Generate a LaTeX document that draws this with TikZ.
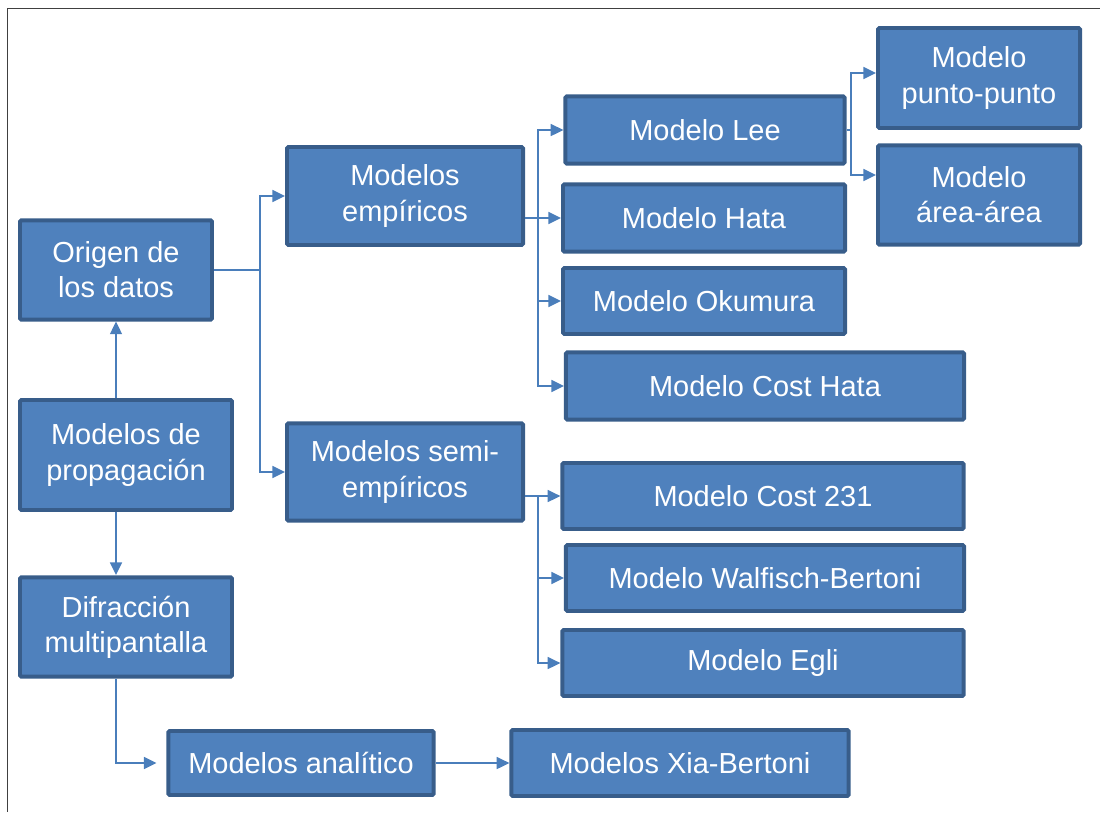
\documentclass[tikz,border=0pt]{standalone}
\usepackage{fontspec}
\setmainfont{Liberation Sans}
\usetikzlibrary{calc,arrows.meta}
\definecolor{boxfill}{HTML}{4F81BD}
\definecolor{boxline}{HTML}{385D8A}
\definecolor{conline}{HTML}{4A7EBB}

\begin{document}
\begin{tikzpicture}[x=0.025cm, y=-0.025cm,
		box/.style={draw=boxline, fill=boxfill, line width=2.8pt, rounded corners=1pt, inner sep=0pt, align=center, text=white, font=\fontsize{20.6}{25}\selectfont},
		conn/.style={draw=conline, line width=1.3pt, -{Triangle[length=9pt, width=8.5pt]}}]
		%%%%% START %%%%%
		
		\useasboundingbox (0, 0) rectangle (1100, 812);
		\draw[line width=0.7pt, color=black!75] (1100, 8) -- (7, 8) -- (7, 812);
		
		\node[box, minimum width=4.8cm, minimum height=2.48cm] (origen) at (116, 270) {Origen de\\los datos};
		\node[box, minimum width=5.3cm, minimum height=2.75cm] (propagacion) at (126, 455) {Modelos de\\propagación};
		\node[box, minimum width=5.3cm, minimum height=2.48cm] (difraccion) at (126, 627) {Difracción\\multipantalla};
		
		\node[box, minimum width=5.9cm, minimum height=2.45cm] (empiricos) at (405, 196) {Modelos\\empíricos};
		\node[box, minimum width=5.9cm, minimum height=2.43cm] (semi) at (405, 472) {Modelos semi-\\empíricos};
		
		\node[box, minimum width=6.98cm, minimum height=1.68cm] (lee) at (705, 130) {Modelo Lee};
		\node[box, minimum width=7.05cm, minimum height=1.68cm] (hata) at (704, 218) {Modelo Hata};
		\node[box, minimum width=7.05cm, minimum height=1.65cm] (okumura) at (704, 301) {Modelo Okumura};
		\node[box, minimum width=9.95cm, minimum height=1.68cm] (costhata) at (765, 386) {Modelo Cost Hata};
		
		\node[box, minimum width=5.05cm, minimum height=2.5cm] (punto) at (979, 78) {Modelo\\punto-punto};
		\node[box, minimum width=5.05cm, minimum height=2.48cm] (area) at (979, 195) {Modelo\\área-área};
		
		\node[box, minimum width=10.03cm, minimum height=1.65cm] (cost) at (763, 496) {Modelo Cost 231};
		\node[box, minimum width=9.95cm, minimum height=1.65cm] (walfisch) at (765, 578) {Modelo Walfisch-Bertoni};
		\node[box, minimum width=10.03cm, minimum height=1.65cm] (egli) at (763, 663) {Modelo Egli};
		
		\node[box, minimum width=6.63cm, minimum height=1.6cm] (analitico) at (301, 763) {Modelos analítico};
		\node[box, minimum width=8.43cm, minimum height=1.65cm] (xia) at (680, 763) {Modelos Xia-Bertoni};
		
		% left column
		\draw[conn] (propagacion.north -| origen.south) -- (origen.south);
		\draw[conn] (propagacion.south -| origen.south) -- ++(0, 63);
		
		% first split
		\coordinate (split) at ($(origen.east)+(46, 0)$);
		\draw[conn] (origen.east) -- (split) |- (empiricos.west);
		\draw[conn] (split) |- (semi.west);
		
		% empiricos
		\coordinate (esplit) at (538, 218);
		\draw[conn] (empiricos.east |- hata.west) -- (hata.west);
		\draw[conn] (esplit) |- (lee.west);
		\draw[conn] (esplit) |- (okumura.west);
		\draw[conn] (esplit) |- (costhata.west);
		
		% lee
		\coordinate (lsplit) at ($(lee.east)+(4, 0)$);
		\draw[conn] (lee.east) -- (lsplit) |- ($(punto.west)+(0, -5)$);
		\draw[conn] (lsplit) |- ($(area.west)+(0, -20)$);
		
		% semi
		\coordinate (ssplit) at (538, 496);
		\draw[conn] (semi.east |- cost.west) -- (cost.west);
		\draw[conn] (ssplit) |- (walfisch.west);
		\draw[conn] (ssplit) |- (egli.west);
		
		% bottom
		\draw[conn, shorten >=7pt] (difraccion.south -| origen.south) |- (analitico.west);
		\draw[conn] (analitico.east) -- (xia.west);
		
		%%%%% END %%%%%
	\end{tikzpicture}
\end{document}
